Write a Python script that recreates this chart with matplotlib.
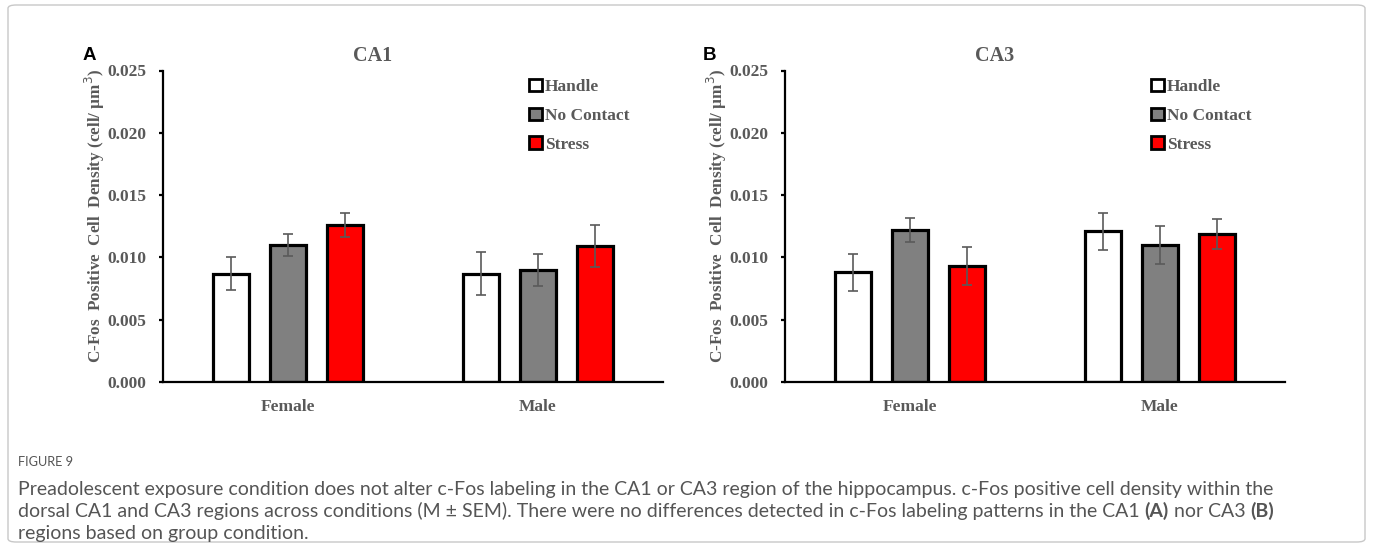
import matplotlib
matplotlib.use("Agg")
import matplotlib.pyplot as plt
import numpy as np
from matplotlib.patches import Patch, FancyBboxPatch

# ---------------- data ----------------
groups = ["Female", "Male"]
conditions = ["Handle", "No Contact", "Stress"]
colors = ["#FFFFFF", "#808080", "#FF0000"]

ca1_handle = [0.0087, 0.0087]
ca1_nocontact = [0.0110, 0.0090]
ca1_stress = [0.0126, 0.0109]
ca1_handle_sem = [0.0013, 0.0017]
ca1_nocontact_sem = [0.0009, 0.0013]
ca1_stress_sem = [0.0010, 0.0017]

ca3_handle = [0.0088, 0.0121]
ca3_nocontact = [0.0122, 0.0110]
ca3_stress = [0.0093, 0.0119]
ca3_handle_sem = [0.0015, 0.0015]
ca3_nocontact_sem = [0.0010, 0.0015]
ca3_stress_sem = [0.0015, 0.0012]

yticks = [0.000, 0.005, 0.010, 0.015, 0.020, 0.025]
ylabel = "C-Fos  Positive  Cell  Density (cell/ \u00b5m$^3$)"
panel_titles = ["CA1", "CA3"]
panel_letters = ["A", "B"]

caption_head = "FIGURE 9"
caption_line1 = ("Preadolescent exposure condition does not alter c-Fos labeling in the CA1 or CA3 region "
                 "of the hippocampus. c-Fos positive cell density within the")
caption_line2 = [("dorsal CA1 and CA3 regions across conditions (M \u00b1 SEM). There were no differences "
                  "detected in c-Fos labeling patterns in the CA1 ", "normal"),
                 ("(A)", "bold"), (" nor CA3 ", "normal"), ("(B)", "bold")]
caption_line3 = "regions based on group condition."

# ---------------- figure ----------------
W, H = 1373, 550
fig = plt.figure(figsize=(W / 100, H / 100), dpi=100)
fig.patch.set_facecolor("white")

serif = "Liberation Serif"
txtgray = "#595959"

def px_axes(left, right, top, bottom):
    return [left / W, 1 - bottom / H, (right - left) / W, (bottom - top) / H]

axes_specs = [px_axes(163, 663, 70.5, 382), px_axes(785, 1285, 70.5, 382)]
title_x = [373, 995]
letter_x = [83, 703]
ylabel_x = [95, 717]

panel_data = [
    ([ca1_handle, ca1_nocontact, ca1_stress], [ca1_handle_sem, ca1_nocontact_sem, ca1_stress_sem]),
    ([ca3_handle, ca3_nocontact, ca3_stress], [ca3_handle_sem, ca3_nocontact_sem, ca3_stress_sem]),
]

x = np.arange(len(groups))
offset = 0.228
width = 0.142

for i, spec in enumerate(axes_specs):
    ax = fig.add_axes(spec)
    vals, sems = panel_data[i]
    for j in range(3):
        ax.bar(x + (j - 1) * offset, vals[j], width=width, color=colors[j],
               edgecolor="black", linewidth=2.3, zorder=2)
        ax.errorbar(x + (j - 1) * offset, vals[j], yerr=sems[j], fmt="none",
                    ecolor="#5a5a5a", elinewidth=1.2, capsize=3.5, capthick=1.2, zorder=3)
    ax.set_xlim(-0.5, 1.5)
    ax.set_ylim(0, 0.025)
    ax.set_yticks(yticks)
    ax.set_yticklabels([f"{t:.3f}" for t in yticks])
    ax.set_xticks(x)
    ax.set_xticklabels(groups)
    for s in ["top", "right"]:
        ax.spines[s].set_visible(False)
    for s in ["left", "bottom"]:
        ax.spines[s].set_linewidth(1.6)
        ax.spines[s].set_color("black")
    ax.tick_params(axis="y", direction="out", length=3, width=1.6, pad=9, colors="black",
                   labelcolor=txtgray, labelsize=12.5)
    ax.tick_params(axis="x", length=0, pad=12, labelcolor=txtgray, labelsize=12.5)
    for lab in ax.get_xticklabels() + ax.get_yticklabels():
        lab.set_fontfamily(serif)
        lab.set_fontweight("bold")
    ax.set_facecolor("none")

    # y label
    ax.text((ylabel_x[i] - spec[0] * W) / (spec[2] * W), 0.533, ylabel, transform=ax.transAxes,
            rotation=90, ha="center", va="center", fontsize=12.3, fontweight="bold",
            family=serif, color=txtgray)

    # legend
    handles = [Patch(facecolor=c, edgecolor="black", linewidth=2.0) for c in colors]
    leg = ax.legend(handles, conditions, loc="upper left", bbox_to_anchor=(0.732, 0.974),
                    frameon=False, borderpad=0, borderaxespad=0, handlelength=0.75,
                    handleheight=0.75, handletextpad=0.15, labelspacing=0.72,
                    prop={"family": serif, "weight": "bold", "size": 12.5})
    for t in leg.get_texts():
        t.set_color(txtgray)

    # title and panel letter
    fig.text(title_x[i] / W, 1 - 56 / H, panel_titles[i], ha="center", va="center",
             fontsize=14.5, fontweight="bold", family=serif, color=txtgray)
    fig.text(letter_x[i] / W, 1 - 60 / H, panel_letters[i], ha="left", va="baseline",
             fontsize=13.5, fontweight="bold", family="Liberation Sans", color="black")

# outer frame
frame = FancyBboxPatch((8 / W, 8 / H), (1365 - 8) / W, (545 - 8) / H,
                       boxstyle="round,pad=0,rounding_size=0.006", transform=fig.transFigure,
                       facecolor="none", edgecolor="#c8c8c8", linewidth=1.0)
fig.patches.append(frame)

# caption
capfont = "Lato"
capgray = "#555555"
capsize = 14.0
cx = 18 / W
fig.text(cx, 1 - 466 / H, caption_head, fontsize=9.2, family=capfont, color=capgray,
         va="baseline", ha="left")
fig.text(cx, 1 - 495 / H, caption_line1, fontsize=capsize, family=capfont, color=capgray,
         va="baseline", ha="left")
fig.text(cx, 1 - 539 / H, caption_line3, fontsize=capsize, family=capfont, color=capgray,
         va="baseline", ha="left")

# mixed-weight line 2
fig.canvas.draw()
renderer = fig.canvas.get_renderer()
xpos = cx
for txt, wt in caption_line2:
    t = fig.text(xpos, 1 - 517 / H, txt, fontsize=capsize, family=capfont, color=capgray,
                 fontweight=wt, va="baseline", ha="left")
    bb = t.get_window_extent(renderer)
    xpos = xpos + bb.width / W

fig.savefig("out.png", dpi=100, facecolor="white")
